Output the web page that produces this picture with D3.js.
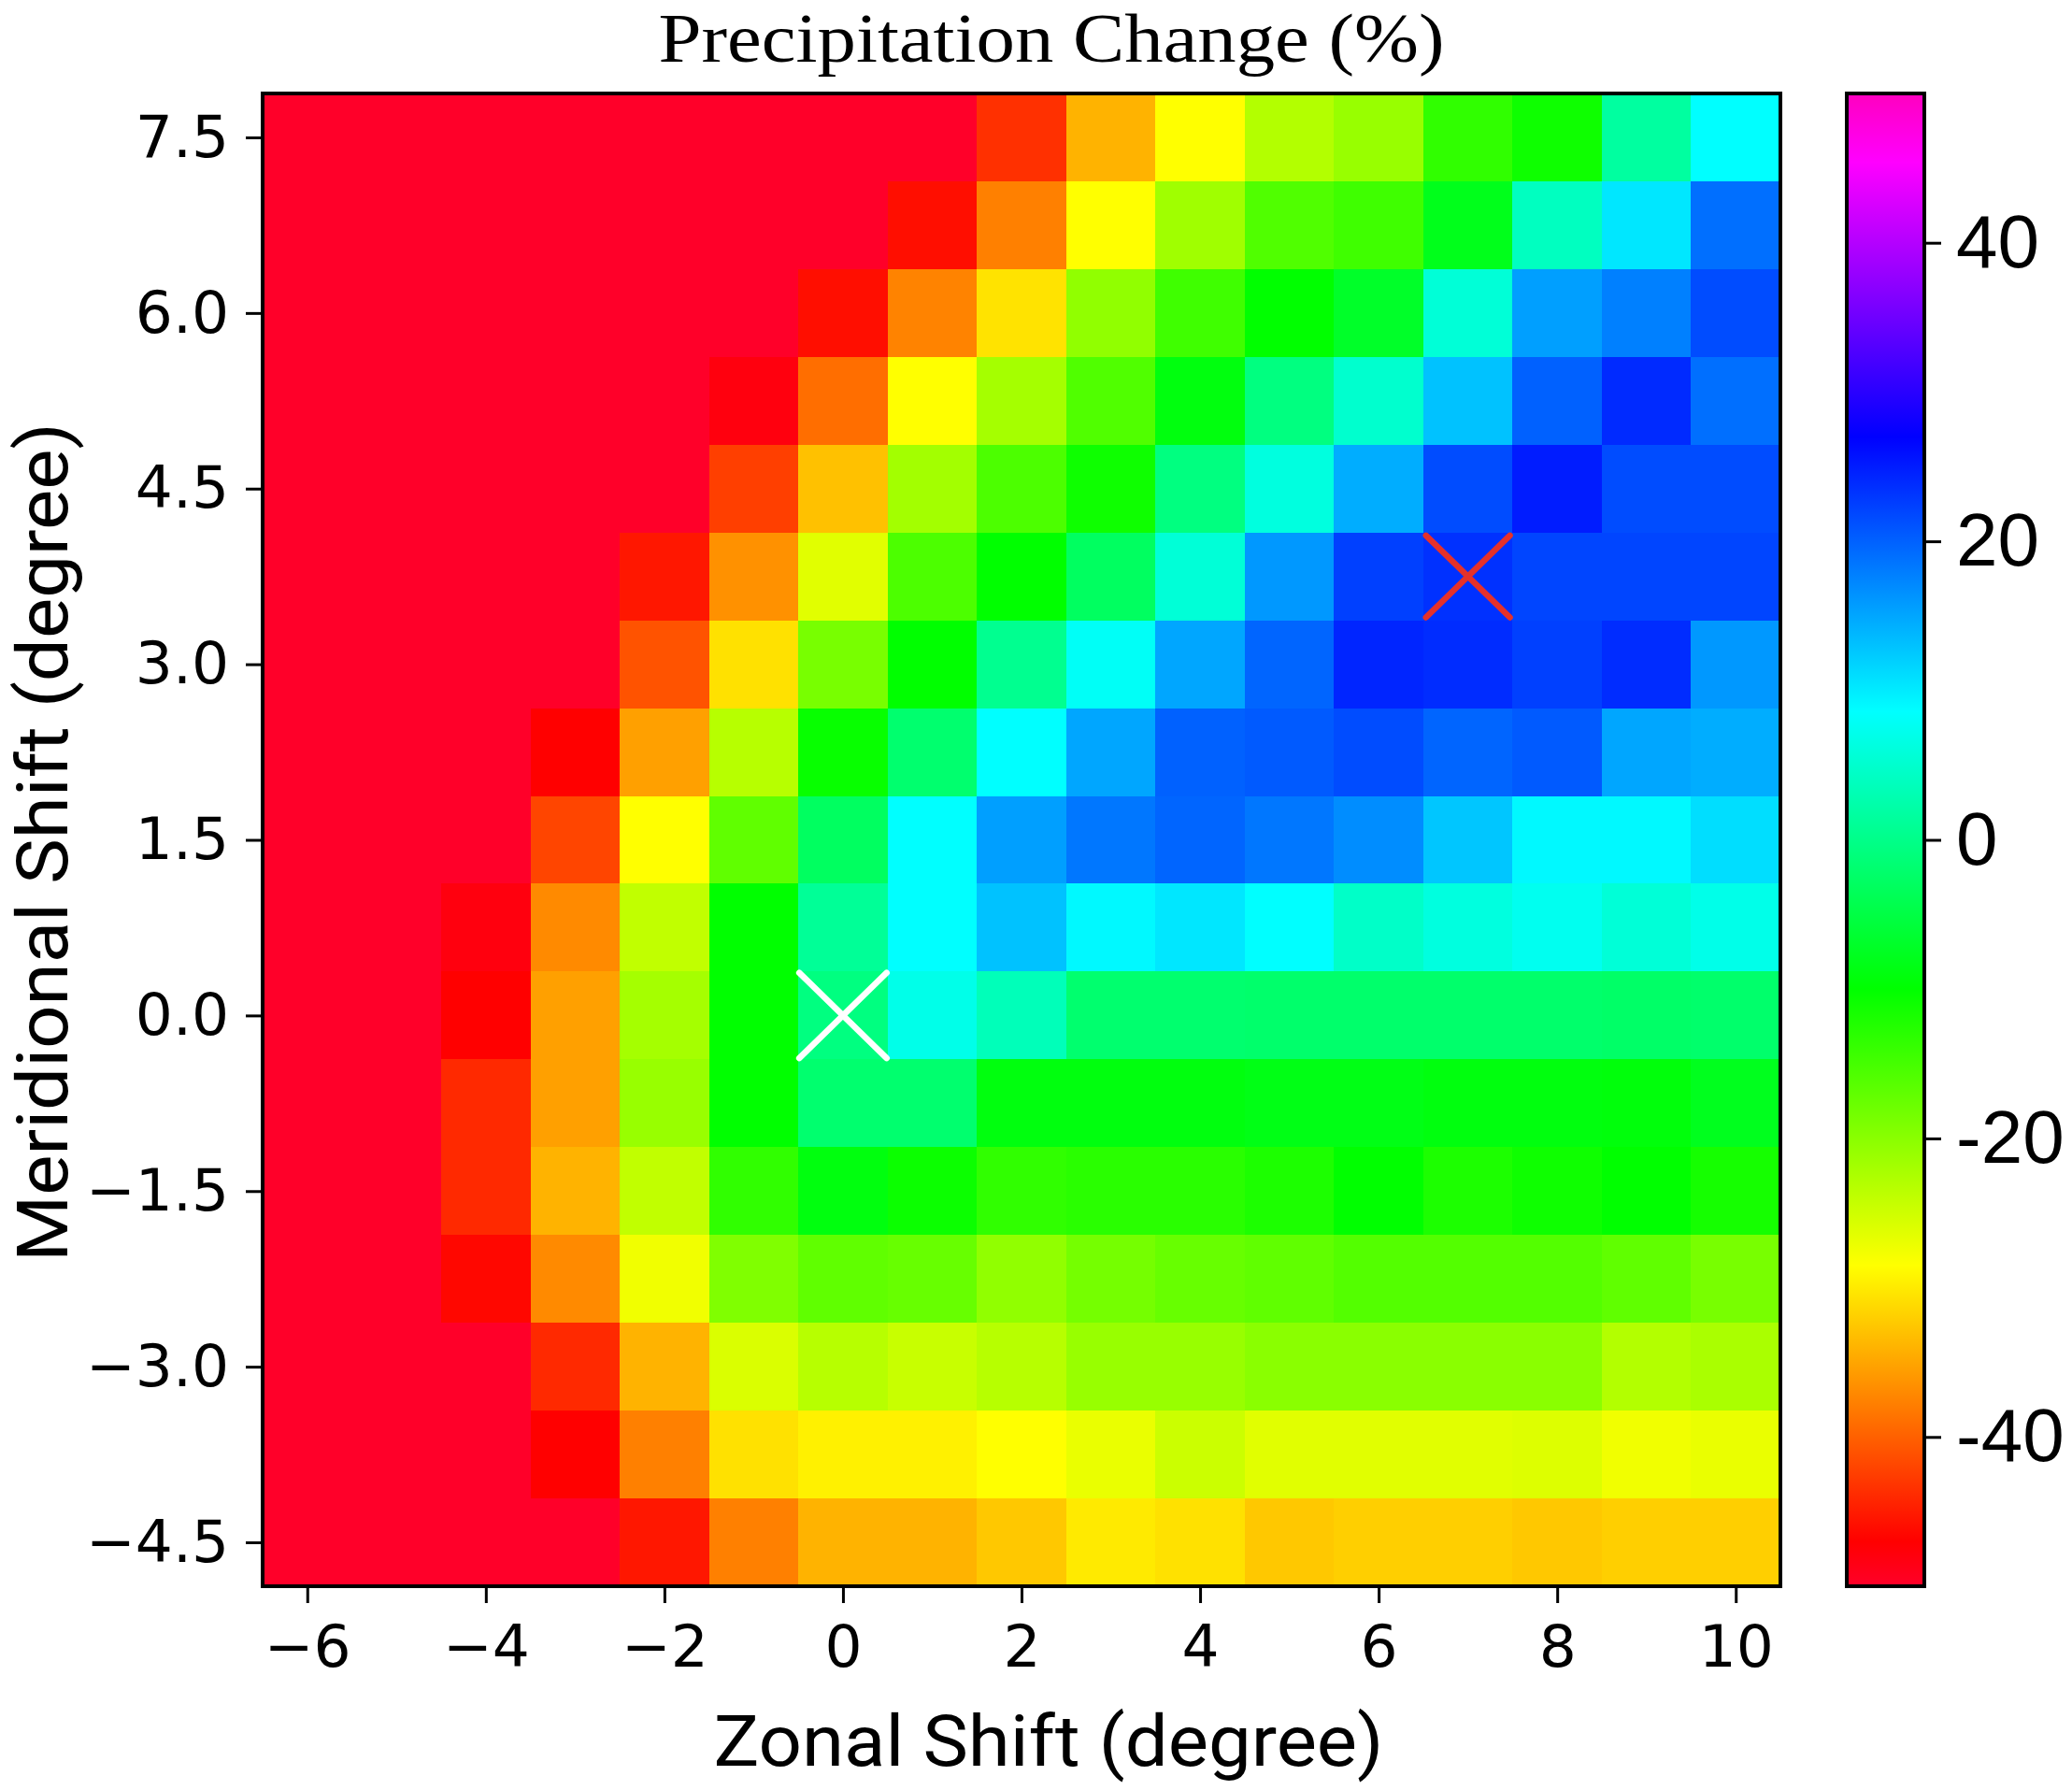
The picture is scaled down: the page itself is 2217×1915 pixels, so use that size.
<!DOCTYPE html>
<html>
<head>
<meta charset="utf-8">
<script src="https://cdn.jsdelivr.net/npm/d3@7"></script>
<style>
  html, body { margin: 0; padding: 0; background: #fff; }
  .tick text { fill: #000; }
</style>
</head>
<body>
<div id="my_dataviz"></div>
<script>
const zonal = [-6, -5, -4, -3, -2, -1, 0, 1, 2, 3, 4, 5, 6, 7, 8, 9, 10];
const meridional = [7.5, 6.75, 6.0, 5.25, 4.5, 3.75, 3.0, 2.25, 1.5, 0.75, 0.0, -0.75, -1.5, -2.25, -3.0, -3.75, -4.5];

// one row per meridional shift
const row_7_5   = [-50,-50,-50,-50,-50,-50,-50,-50,-43.5,-34,-28.5,-23,-21,-13.5,-11,1.7,8.6];
const row_6_75  = [-50,-50,-50,-50,-50,-50,-50,-46,-37.7,-28.5,-21.6,-15.8,-14.6,-8,4,10.3,19];
const row_6_0   = [-50,-50,-50,-50,-50,-50,-46,-37.5,-30.5,-20.5,-14.6,-10,-7,5.7,15.5,17.8,21.5];
const row_5_25  = [-50,-50,-50,-50,-50,-48,-39,-28.5,-22,-15.8,-9,-0.7,5,13,20,24,19];
const row_4_5   = [-50,-50,-50,-50,-50,-42.4,-33,-21.8,-15.5,-11,-0.7,6.3,14.5,21.5,25,21.5,21.5];
const row_3_75  = [-50,-50,-50,-50,-45.3,-36.5,-26.3,-15.5,-10,-3,5.7,16,22.4,23.5,22,22,22];
const row_3_0   = [-50,-50,-50,-50,-41,-30.7,-18.7,-10,0.5,8,15,19.7,24.3,23.8,22.4,23.8,16];
const row_2_25  = [-50,-50,-50,-47,-35.4,-23.3,-10.5,-2,8.6,15,20,20.5,21.5,19.7,20.5,15,14.5];
const row_1_5   = [-50,-50,-50,-42,-28.5,-17,-3,8.6,15.5,18.4,19.7,18.4,16.8,12.7,9,9,11];
const row_0_75  = [-50,-50,-48,-37,-24,-10,1,8.6,13,9,10.3,8.6,4.6,6.3,7.5,5.7,7];
const row_0_0   = [-50,-50,-47,-35.4,-22,-10,-0.7,7,3.5,-2,-2,-2.2,-2.2,-2.2,-2.2,-2.5,-2.2];
const row_m0_75 = [-50,-50,-44,-35.4,-21,-10,-2,-2,-9,-9,-9,-8.5,-8.5,-9,-9,-9.2,-7.8];
const row_m1_5  = [-50,-50,-44,-34,-24,-13.5,-9,-10.8,-13.5,-13,-13,-12,-10,-12,-11,-10,-11.5];
const row_m2_25 = [-50,-50,-46.5,-37,-27.5,-19.3,-17,-17.5,-20.5,-18.5,-17.5,-17,-16,-16,-16,-17,-18.7];
const row_m3_0  = [-50,-50,-50,-44,-34,-25.8,-23.3,-24.5,-23.3,-21,-21,-20,-20,-20,-20,-23,-22.3];
const row_m3_75 = [-50,-50,-50,-47,-37.7,-30.7,-29.5,-29.5,-28.5,-27,-24.7,-26.3,-26.3,-26.3,-26,-27.5,-27];
const row_m4_5  = [-50,-50,-50,-50,-45.3,-37.7,-34,-34,-32.5,-30,-30.7,-32.5,-32,-32,-32.5,-32,-32];
const rows = [row_7_5, row_6_75, row_6_0, row_5_25, row_4_5, row_3_75, row_3_0, row_2_25, row_1_5,
              row_0_75, row_0_0, row_m0_75, row_m1_5, row_m2_25, row_m3_0, row_m3_75, row_m4_5];

const marker_x = [0, 7];
const marker_y = [0, 3.75];

const x_ticks = [-6, -4, -2, 0, 2, 4, 6, 8, 10];
const y_ticks = [-4.5, -3.0, -1.5, 0.0, 1.5, 3.0, 4.5, 6.0, 7.5];
const bar_ticks = [-40, -20, 0, 20, 40];

// gist_rainbow anchors
const rainbow_pos = [0, 0.03, 0.215, 0.4, 0.586, 0.77, 0.954, 1];
const rainbow_col = ["#ff0029", "#ff0000", "#ffff00", "#00ff00", "#00ffff", "#0000ff", "#ff00ff", "#ff00bf"];

const width = 2217, height = 1915;
const plot = { left: 281, right: 1905, top: 100, bottom: 1697 };
const bar = { left: 1976, right: 2059 };

const svg = d3.select("#my_dataviz").append("svg")
    .attr("width", width).attr("height", height)
    .style("display", "block");

const xScale = d3.scaleLinear().domain([-6.5, 10.5]).range([plot.left, plot.right]);
const yScale = d3.scaleLinear().domain([-4.875, 7.875]).range([plot.bottom, plot.top]);
const valueToT = d3.scaleLinear().domain([-50, 50]).range([0, 1]);
const rainbow = d3.scaleLinear().domain(rainbow_pos).range(rainbow_col).interpolate(d3.interpolateRgb);
const color = v => rainbow(valueToT(v));

const cells = [];
rows.forEach((row, j) => row.forEach((v, i) => cells.push({ x: zonal[i], y: meridional[j], v: v })));

svg.append("g").selectAll("rect").data(cells).join("rect")
    .attr("x", d => xScale(d.x - 0.5))
    .attr("y", d => yScale(d.y + 0.375))
    .attr("width", xScale(1) - xScale(0) + 0.5)
    .attr("height", yScale(0) - yScale(0.75) + 0.5)
    .attr("fill", d => color(d.v))
    .attr("shape-rendering", "crispEdges");

// the two X markers
const markers = marker_x.map((x, i) => ({ x: x, y: marker_y[i], c: i == 0 ? "#ffffff" : "#e5312a", hx: i == 0 ? 0.49 : 0.47, hy: i == 0 ? 0.365 : 0.35 }));
markers.forEach(m => {
    [1, -1].forEach(s => {
        svg.append("line")
            .attr("x1", xScale(m.x - m.hx)).attr("x2", xScale(m.x + m.hx))
            .attr("y1", yScale(m.y - s * m.hy)).attr("y2", yScale(m.y + s * m.hy))
            .attr("stroke", m.c).attr("stroke-width", 6.5).attr("stroke-linecap", "round");
    });
});

// frame
svg.append("rect")
    .attr("x", plot.left).attr("y", plot.top)
    .attr("width", plot.right - plot.left).attr("height", plot.bottom - plot.top)
    .attr("fill", "none").attr("stroke", "#000").attr("stroke-width", 4);

const styleAxis = (g, size, family) => {
    g.select(".domain").remove();
    g.selectAll(".tick line").attr("stroke", "#000").attr("stroke-width", 3);
    g.selectAll(".tick text").style("font-family", family).style("font-size", size + "px");
};

svg.append("g")
    .attr("transform", "translate(0," + plot.bottom + ")")
    .call(d3.axisBottom(xScale).tickValues(x_ticks).tickSize(18).tickPadding(23).tickFormat(d3.format("d")))
    .call(styleAxis, 63, "'DejaVu Sans'");

svg.append("g")
    .attr("transform", "translate(" + plot.left + ",0)")
    .call(d3.axisLeft(yScale).tickValues(y_ticks).tickSize(18).tickPadding(18).tickFormat(d3.format(".1f")))
    .call(styleAxis, 63, "'DejaVu Sans'");

// colorbar
const grad = svg.append("defs").append("linearGradient")
    .attr("id", "rainbow").attr("x1", 0).attr("x2", 0).attr("y1", 1).attr("y2", 0);
grad.selectAll("stop").data(rainbow_pos).join("stop")
    .attr("offset", d => d)
    .attr("stop-color", (d, i) => rainbow_col[i]);

const barScale = d3.scaleLinear().domain([-50, 50]).range([plot.bottom, plot.top]);
svg.append("rect")
    .attr("x", bar.left).attr("y", plot.top)
    .attr("width", bar.right - bar.left).attr("height", plot.bottom - plot.top)
    .attr("fill", "url(#rainbow)").attr("stroke", "#000").attr("stroke-width", 4);

svg.append("g")
    .attr("transform", "translate(" + bar.right + ",0)")
    .call(d3.axisRight(barScale).tickValues(bar_ticks).tickSize(18).tickPadding(16).tickFormat(d => String(d)))
    .call(styleAxis, 80, "'Liberation Sans'");

// titles
svg.append("text")
    .attr("x", 1125).attr("y", 66)
    .attr("text-anchor", "middle")
    .attr("textLength", 841).attr("lengthAdjust", "spacingAndGlyphs")
    .style("font-family", "'Liberation Serif'").style("font-size", "74px")
    .text("Precipitation Change (%)");

svg.append("text")
    .attr("x", 1122).attr("y", 1889)
    .attr("text-anchor", "middle")
    .attr("textLength", 717).attr("lengthAdjust", "spacingAndGlyphs")
    .style("font-family", "Roboto").style("font-size", "76px")
    .text("Zonal Shift (degree)");

svg.append("text")
    .attr("transform", "translate(72,901) rotate(-90)")
    .attr("text-anchor", "middle")
    .attr("textLength", 898).attr("lengthAdjust", "spacingAndGlyphs")
    .style("font-family", "Roboto").style("font-size", "76px")
    .text("Meridional Shift (degree)");
</script>
</body>
</html>
